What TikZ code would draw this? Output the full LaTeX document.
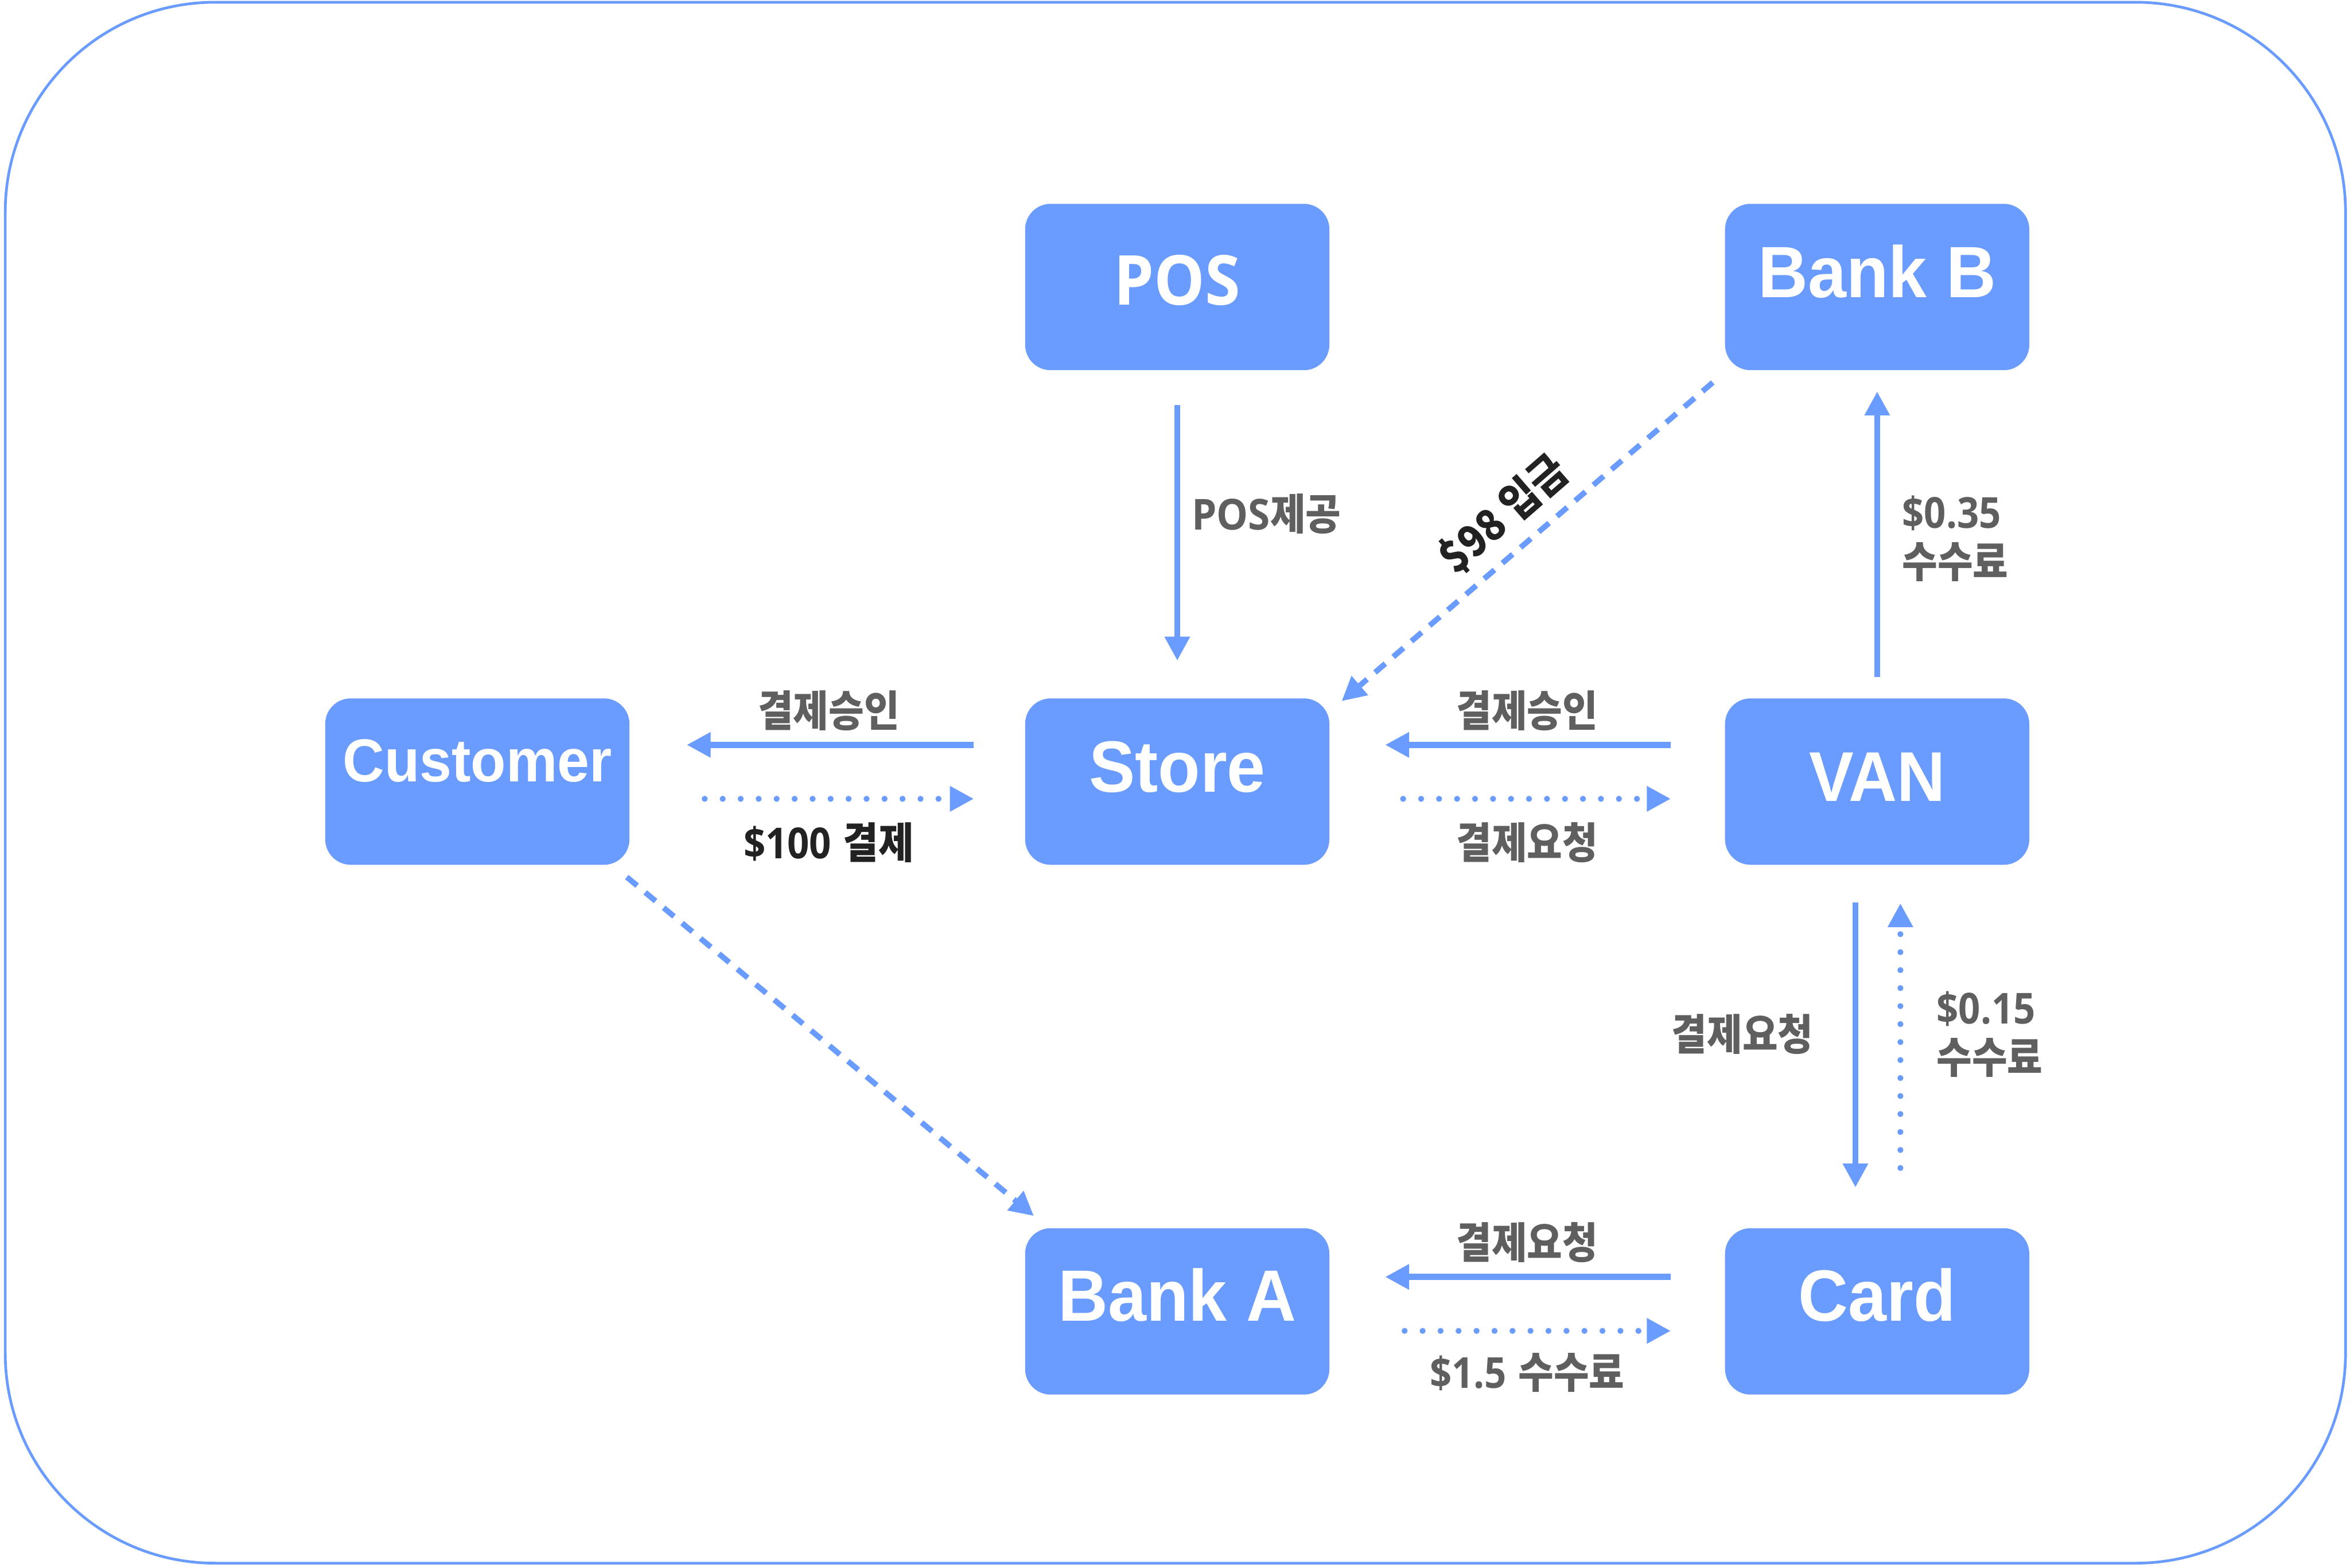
\documentclass[tikz,border=0pt]{standalone}
\usepackage{fontspec}
\setmainfont{Liberation Sans}
\newfontfamily\boxfont[FakeStretch=0.95]{Liberation Sans}
\newfontfamily\posfont[FakeStretch=0.93]{Open Sans}
\newfontfamily\latfont[FakeStretch=0.9]{Open Sans}
\newfontfamily\krfont[FakeStretch=0.9]{Noto Sans CJK KR}
\usetikzlibrary{arrows.meta,calc}

\definecolor{flowblue}{RGB}{106,155,255}
\definecolor{labelgray}{RGB}{95,95,95}
\definecolor{labeldark}{RGB}{34,34,34}

\tikzset{
  party/.style={fill=flowblue, rounded corners=17pt, minimum width=203pt,
    minimum height=111pt, inner sep=0pt},
  partytext/.style={text=white, inner sep=0pt, anchor=base,
    font=\boxfont\bfseries\fontsize{48.5}{48.5}\selectfont},
  flow/.style={draw=flowblue, line width=4pt,
    -{Triangle[length=16pt,width=16pt]}},
  dottedflow/.style={flow, line cap=round, dash pattern=on 0pt off 12pt},
  dashedflow/.style={flow, line width=3.7pt, dash pattern=on 9pt off 7pt},
  lbl/.style={text=labelgray, inner sep=0pt,
    font=\bfseries\fontsize{28.5}{33}\selectfont},
  lbldark/.style={lbl, text=labeldark},
}

\begin{document}
\begin{tikzpicture}[x=1pt, y=-1pt]
  \useasboundingbox (0,0) rectangle (1568,1046);
  \fill[white] (0,0) rectangle (1568,1046);

  % outer frame
  \draw[flowblue, line width=1.8pt, rounded corners=140pt]
    (3.5,1.5) rectangle (1565,1043);

  % parties
  \node[party] (pos)   at (785.5,191.5) {};
  \node[party] (bankb) at (1252.5,191.5) {};
  \node[party] (cust)  at (318.5,521.5) {};
  \node[party] (store) at (785.5,521.5) {};
  \node[party] (van)   at (1252.5,521.5) {};
  \node[party] (banka) at (785.5,875) {};
  \node[party] (card)  at (1252.5,875) {};

  \node[partytext, font=\posfont\bfseries\fontsize{46}{46}\selectfont]
    (pos-t) at ($(pos)+(0,12)$) {POS};
  \node[partytext] (bankb-t) at ($(bankb)+(0,7)$) {Bank B};
  \node[partytext, font=\boxfont\bfseries\fontsize{40.5}{40.5}\selectfont]
    (cust-t) at ($(cust)+(0,0)$) {Customer};
  \node[partytext] (store-t) at ($(store)+(0,7)$) {Store};
  \node[partytext, font=\boxfont\bfseries\fontsize{47}{47}\selectfont]
    (van-t) at ($(van)+(0,13)$) {VAN};
  \node[partytext] (banka-t) at ($(banka)+(0,6.5)$) {Bank A};
  \node[partytext] (card-t)  at ($(card)+(0,6.5)$) {Card};

  % POS -> Store
  \draw[flow] ($(pos.south)+(0,23)$) -- ($(store.north)+(0,-25)$);
  \node[lbl, anchor=west] (l-pos) at (795,343)
    {{\posfont POS}{\krfont 제공}};

  % Customer <-> Store
  \draw[flow] ($(store.west)+(-34,-24.5)$) -- ($(cust.east)+(38,-24.5)$);
  \draw[dottedflow] ($(cust.east)+(50,11.5)$) -- ($(store.west)+(-34,11.5)$);
  \node[lbl] (l-cs1) at (553,474) {\krfont 결제승인};
  \node[lbldark] (l-cs2) at (553,562) {{\latfont\$100} {\krfont 결제}};

  % Store <-> VAN
  \draw[flow] ($(van.west)+(-36,-24.5)$) -- ($(store.east)+(37,-24.5)$);
  \draw[dottedflow] ($(store.east)+(49,11.5)$) -- ($(van.west)+(-36,11.5)$);
  \node[lbl] (l-sv1) at (1019,474) {\krfont 결제승인};
  \node[lbl] (l-sv2) at (1019,562) {\krfont 결제요청};

  % VAN -> Bank B
  \draw[flow] ($(van.north)+(0,-14)$) -- ($(bankb.south)+(0,14)$);
  \node[lbl, anchor=west, align=left] (l-vb) at (1269,359.5)
    {{\latfont\$0.35}\\{\krfont 수수료}};

  % Bank B -> Store
  \coordinate (bb-from) at ($(bankb.south west)+(-8,8)$);
  \coordinate (st-to) at ($(store.north east)+(8,2)$);
  \draw[dashedflow] (bb-from) -- (st-to);
  \node[lbldark, rotate=41, font=\krfont\bfseries\fontsize{29}{33}\selectfont]
    (l-98) at (1003,343) {\$98 입금};

  % VAN <-> Card
  \draw[flow] ($(van.south)+(-14.5,25)$) -- ($(card.north)+(-14.5,-27)$);
  \draw[dottedflow] ($(card.north)+(15.5,-40)$) -- ($(van.south)+(15.5,25.5)$);
  \node[lbl, anchor=east] (l-vc) at (1210,690) {\krfont 결제요청};
  \node[lbl, anchor=west, align=left] (l-cv) at (1292,690)
    {{\latfont\$0.15}\\{\krfont 수수료}};

  % Bank A <-> Card
  \draw[flow] ($(card.west)+(-36,-23)$) -- ($(banka.east)+(37,-23)$);
  \draw[dottedflow] ($(banka.east)+(50,13)$) -- ($(card.west)+(-36,13)$);
  \node[lbl] (l-bc1) at (1019,829) {\krfont 결제요청};
  \node[lbl] (l-bc2) at (1019,916) {{\latfont\$1.5} {\krfont 수수료}};

  % Customer -> Bank A
  \coordinate (cu-from) at ($(cust.south east)+(-2,8)$);
  \coordinate (ba-to) at ($(banka.north west)+(6,-8)$);
  \draw[dashedflow] (cu-from) -- (ba-to);
\end{tikzpicture}
\end{document}
